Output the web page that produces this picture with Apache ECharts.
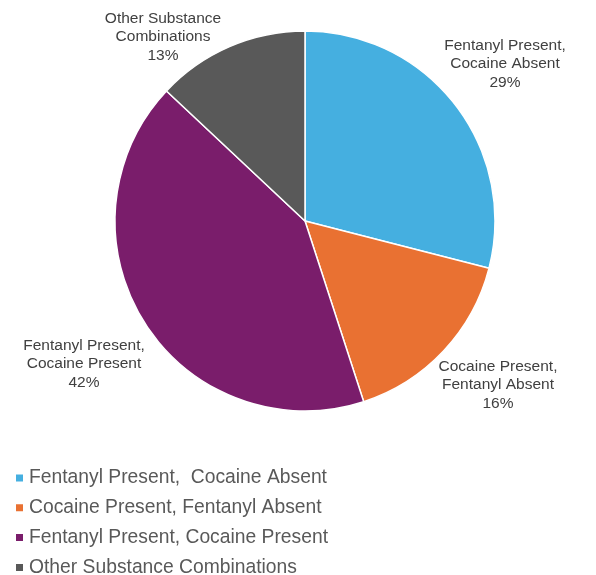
<!DOCTYPE html>
<html>
<head>
<meta charset="utf-8">
<script src="https://cdn.jsdelivr.net/npm/echarts@6/dist/echarts.min.js"></script>
<style>
  html, body { margin: 0; padding: 0; background: #ffffff; }
  #chart { width: 596px; height: 575px; }
</style>
</head>
<body>
<div id="chart"></div>
<script>
// Share of cases by substance combination
const categories = [
  'Fentanyl Present,  Cocaine Absent',
  'Cocaine Present, Fentanyl Absent',
  'Fentanyl Present, Cocaine Present',
  'Other Substance Combinations'
];
const sliceLabels = [
  'Fentanyl Present,\nCocaine Absent',
  'Cocaine Present,\nFentanyl Absent',
  'Fentanyl Present,\nCocaine Present',
  'Other Substance\nCombinations'
];
const percentages = [29, 16, 42, 13];

const sliceColors = ['#45AFE0', '#E97132', '#7A1D6B', '#595959'];
// Where each slice's label block is centred
const labelAnchors = [[505, 64], [498, 385], [84, 364], [163, 37]];
const FONT = "Arial, 'Liberation Sans', sans-serif";

const chart = echarts.init(document.getElementById('chart'));
chart.setOption({
  animation: false,
  color: sliceColors,
  legend: {
    orient: 'vertical',
    left: 14,
    top: 468.5,
    height: 130,
    padding: 0,
    itemWidth: 9,
    itemHeight: 9,
    itemGap: 10.8,
    icon: 'rect',
    textStyle: { fontFamily: FONT, fontSize: 19.3, color: '#595959' },
    data: categories
  },
  series: [{
    type: 'pie',
    center: [305, 221],
    radius: [0, 190],
    startAngle: 90,
    clockwise: true,
    itemStyle: { borderColor: '#ffffff', borderWidth: 1.5 },
    label: {
      show: true,
      position: 'outside',
      formatter: p => sliceLabels[p.dataIndex] + '\n' + p.value + '%',
      fontFamily: FONT,
      fontSize: 15.5,
      lineHeight: 18.5,
      color: '#404040',
      align: 'center',
      overflow: 'none',
      width: 200
    },
    labelLine: { show: false },
    labelLayout: p => ({
      x: labelAnchors[p.dataIndex][0],
      y: labelAnchors[p.dataIndex][1],
      align: 'center',
      verticalAlign: 'middle'
    }),
    emphasis: { disabled: true },
    data: categories.map((name, i) => ({ name: name, value: percentages[i] }))
  }]
});
</script>
</body>
</html>
